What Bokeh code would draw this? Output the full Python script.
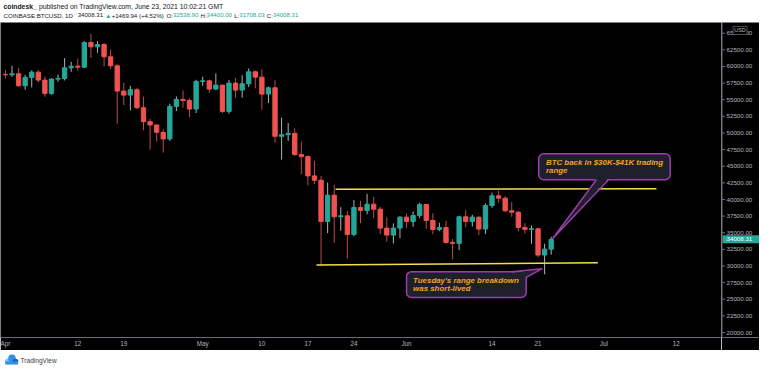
import pandas as pd
from bokeh.plotting import figure
from bokeh.layouts import column, row
from bokeh.models import Range1d, FixedTicker, Span
from bokeh.core.properties import value
from bokeh.embed import file_html
from bokeh.resources import INLINE

# ---------------- data ----------------
dates = pd.date_range("2021-04-01", "2021-06-23", freq="D")

opens = [58800, 58750, 58900, 57100, 58350, 59150, 57950, 55950, 58100, 58200,
         59800, 60050, 59900, 63600, 62950, 63300, 61450, 60100, 56300, 55700,
         56500, 53800, 51700, 51200, 50100, 49100, 54000, 55050, 54900, 53600,
         57750, 57850, 56600, 57200, 53250, 57500, 56450, 57400, 59200, 58400,
         55850, 56800, 49500, 49750, 49950, 46750, 46450, 43550, 42900, 36700,
         40650, 37400, 37550, 34750, 38800, 38350, 39300, 38550, 35700, 34650,
         35700, 37350, 36700, 37600, 39250, 36850, 35500, 35800, 33550, 33400,
         37400, 36700, 37350, 35550, 39100, 40550, 40200, 38300, 38100, 35800,
         35500, 35600, 31650, 32538.90]
highs = [59450, 60100, 59750, 58750, 59400, 59450, 58500, 58250, 58800, 61250,
         60700, 61200, 63800, 64900, 63800, 63550, 62550, 60400, 57550, 57100,
         56800, 55450, 52150, 51300, 50550, 54400, 55500, 56400, 55200, 58000,
         58450, 57950, 58950, 57250, 57950, 58300, 58700, 59700, 59400, 59600,
         57000, 57950, 52300, 51500, 50700, 48700, 46650, 45800, 43550, 42550,
         42200, 38850, 38300, 39900, 39800, 40850, 40400, 38900, 37300, 36400,
         37500, 37900, 38200, 39500, 39300, 37900, 36500, 36800, 34050, 37550,
         38400, 37700, 37450, 39400, 41050, 41300, 40500, 39600, 38200, 36450,
         36100, 35750, 33350, 34400.00]
lows = [58200, 58450, 56950, 56500, 56850, 57600, 55450, 55750, 57700, 57900,
        59200, 59400, 59800, 61300, 62050, 60000, 59600, 51400, 54200, 53400,
        53600, 50400, 47500, 48750, 47050, 48800, 53300, 53800, 52400, 53000,
        57100, 56000, 56450, 53000, 52900, 55300, 55300, 56900, 56700, 53500,
        54500, 48550, 46000, 48800, 46600, 43800, 42100, 42300, 30000, 34950,
        33500, 35300, 31100, 34500, 36450, 37800, 37200, 34800, 33650, 33400,
        34200, 35700, 35900, 37200, 35600, 34800, 35250, 33350, 31000, 32400,
        35800, 35950, 34650, 34800, 38750, 39500, 38100, 37400, 35200, 34850,
        33350, 31300, 28750, 31708.03]
closes = [58750, 58900, 57100, 58350, 59150, 57950, 55950, 58100, 58200, 59800,
          60050, 59900, 63600, 62950, 63300, 61450, 60100, 56300, 55700, 56500,
          53800, 51700, 51200, 50100, 49100, 54000, 55050, 54900, 53600, 57750,
          57850, 56600, 57200, 53250, 57500, 56450, 57400, 59200, 58400, 55850,
          56800, 49500, 49750, 49950, 46750, 46450, 43550, 42900, 36700, 40650,
          37400, 37550, 34750, 38800, 38350, 39300, 38550, 35700, 34650, 35700,
          37350, 36700, 37600, 39250, 36850, 35500, 35800, 33550, 33400, 37400,
          36700, 37350, 35550, 39100, 40550, 40200, 38300, 38100, 35800, 35500,
          35600, 31650, 32538.37, 34008.31]

x_tick_dates = ["2021-04-01", "2021-04-12", "2021-04-19", "2021-05-01", "2021-05-10",
                "2021-05-17", "2021-05-24", "2021-06-01", "2021-06-14", "2021-06-21",
                "2021-07-01", "2021-07-12", "2021-07-19"]
x_tick_labels = ["Apr", "12", "19", "May", "10", "17", "24", "Jun", "14", "21",
                 "Jul", "12", "19"]
price_ticks = list(range(20000, 65001, 2500))
price_labels = [f"{t:.2f}" for t in price_ticks]
last_price = 34008.31
currency = "USD"

range_top_dates = ["2021-05-21 04:48", "2021-07-09 00:00"]
range_top_prices = [41550, 41620]
range_bottom_dates = ["2021-05-18 07:12", "2021-06-30 02:24"]
range_bottom_prices = [30150, 30480]

note1_lines = ["BTC back in $30K-$41K trading", "range"]
note2_lines = ["Tuesday's range breakdown", "was short-lived"]

header_line1 = [("coindesk_", "bold", "dark"),
                (" published on TradingView.com, June 23, 2021 10:02:21 GMT", "normal", "dark")]
header_line2 = [("COINBASE:BTCUSD, 1D  ", "normal", "dark"), ("34008.31 ", "normal", "dark"),
                ("\u25b2", "normal", "teal"), (" +1469.94 (+4.52%) ", "normal", "dark"),
                ("O:", "normal", "dark"), ("32538.90", "normal", "teal"),
                (" H:", "normal", "dark"), ("34400.00", "normal", "teal"),
                (" L:", "normal", "dark"), ("31708.03", "normal", "teal"),
                (" C:", "normal", "dark"), ("34008.31", "normal", "teal")]

# ---------------- styles ----------------
UP, DOWN = "#26a69a", "#ef5350"
UP_WICK, DOWN_WICK = "#a9b5b8", "#bf4a49"
YELLOW = "#f0e04a"
BOX_FILL, BOX_LINE, NOTE_COLOR = "#1e212c", "#a03cb0", "#f7a01f"
AXIS_TXT, AXIS_LINE = "#b2b5be", "#6a6d78"
DARK = "#131722"
FONT = "Liberation Sans"
W = 759
FRAME_W = 721
AX_W = W - FRAME_W
MAIN_H = 328
XAX_H = 13

T0 = dates[0]


def day(d):
    return (pd.Timestamp(d) - T0) / pd.Timedelta(days=1)


idx = [day(d) for d in dates]
up = [c >= o for o, c in zip(opens, closes)]
colors = [UP if u else DOWN for u in up]
wick_colors = [UP_WICK if u else DOWN_WICK for u in up]
tops = [max(o, c) for o, c in zip(opens, closes)]
bottoms = [min(o, c) for o, c in zip(opens, closes)]

# ---------------- header ----------------
WID = {' ': 350, '.': 278, ',': 278, ':': 278, '+': 584, '(': 333, ')': 333, '%': 889,
       '-': 333, '_': 556, '\u25b2': 700,
       'A': 667, 'B': 667, 'C': 722, 'D': 722, 'E': 667, 'G': 778, 'H': 722, 'I': 278,
       'J': 500, 'L': 556, 'M': 833, 'N': 722, 'O': 778, 'S': 667, 'T': 611, 'U': 722,
       'V': 667, 'a': 556, 'b': 556, 'c': 500, 'd': 556, 'e': 556, 'g': 556, 'h': 556,
       'i': 222, 'k': 500, 'l': 222, 'm': 833, 'n': 556, 'o': 556, 'p': 556, 'r': 333,
       's': 500, 't': 278, 'u': 556, 'v': 500, 'w': 722, 'y': 500, 'f': 278}


def tw(s, size, bold=False):
    return sum(WID.get(ch, 556) for ch in s) / 1000.0 * size * (1.08 if bold else 1.0)


header = figure(width=W, height=22, x_range=Range1d(0, W), y_range=Range1d(22, 0),
                x_axis_location=None, y_axis_location=None, output_backend="svg",
                toolbar_location=None, min_border=0, background_fill_color="white",
                border_fill_color="white")
header.outline_line_color = None
header.grid.visible = False
cmap = {"dark": DARK, "teal": UP}
for line, yy, size in ((header_line1, 5.8, 6.8), (header_line2, 14.5, 6.1)):
    x = 3.0
    for seg, style, col in line:
        bold = style == "bold"
        lead = len(seg) - len(seg.lstrip(" "))
        header.text(x=[x + tw(seg[:lead], size)], y=[yy], text=[seg.strip()],
                    text_font=value(FONT), text_font_size=value(f"{size}px"),
                    text_font_style=value(style), text_color=cmap[col],
                    text_baseline="middle", text_align="left")
        x += tw(seg, size, bold)

# ---------------- main chart ----------------
yr = Range1d(19251, 66614)
p = figure(width=FRAME_W, height=MAIN_H, x_range=Range1d(-0.75, 108.9), y_range=yr,
           y_axis_location=None, output_backend="svg", toolbar_location=None,
           background_fill_color="#000000", border_fill_color="#000000",
           min_border_left=0, min_border_right=0, min_border_top=0, min_border_bottom=XAX_H)
p.outline_line_color = None
p.grid.visible = False

p.segment(x0=idx, y0=lows, x1=idx, y1=highs, line_color=wick_colors, line_width=1)
p.vbar(x=idx, width=0.66, top=tops, bottom=bottoms, fill_color=colors, line_color=colors,
       line_width=1)

p.line(x=[day(d) for d in range_top_dates], y=range_top_prices, line_color=YELLOW, line_width=1.6)
p.line(x=[day(d) for d in range_bottom_dates], y=range_bottom_prices, line_color=YELLOW,
       line_width=1.6)

# callout 1
b1 = dict(left=81.1, right=101.1, bottom=42983, top=46873)
p.quad(**b1, fill_color=BOX_FILL, line_color=BOX_LINE, line_width=1.5, border_radius=5)
tip1 = (83.2, 34100)
base1 = (89.9, 91.7)
p.patch(x=[base1[0], tip1[0], base1[1]], y=[b1["bottom"] + 250, tip1[1], b1["bottom"] + 250],
        fill_color=BOX_FILL, line_color=None)
p.line(x=[base1[0], tip1[0], base1[1]], y=[b1["bottom"], tip1[1], b1["bottom"]],
       line_color=BOX_LINE, line_width=1.5)
p.text(x=[82.2, 82.2], y=[45600, 44400], text=note1_lines, text_font=value(FONT),
       text_font_style=value("bold italic"), text_font_size=value("7.9px"),
       text_color=NOTE_COLOR, text_baseline="middle", text_align="left")

# callout 2
b2 = dict(left=61.0, right=79.2, bottom=25260, top=29150)
p.quad(**b2, fill_color=BOX_FILL, line_color=BOX_LINE, line_width=1.5, border_radius=5)
tip2 = (81.65, 29600)
p.patch(x=[77.0, tip2[0], 79.2 - 0.15], y=[b2["top"] - 250, tip2[1], 28300],
        fill_color=BOX_FILL, line_color=None)
p.line(x=[77.0, tip2[0], 79.2], y=[b2["top"], tip2[1], 28300], line_color=BOX_LINE,
       line_width=1.5)
p.text(x=[62.0, 62.0], y=[27850, 26560], text=note2_lines, text_font=value(FONT),
       text_font_style=value("bold italic"), text_font_size=value("7.9px"),
       text_color=NOTE_COLOR, text_baseline="middle", text_align="left")

# time axis
tick_idx = [int(round(day(d))) for d in x_tick_dates]
p.xaxis.ticker = FixedTicker(ticks=tick_idx)
p.xaxis.major_label_overrides = {i: lab for i, lab in zip(tick_idx, x_tick_labels)}
p.xaxis.major_tick_line_color = None
p.xaxis.minor_tick_line_color = None
p.xaxis.major_tick_out = 0
p.xaxis.major_tick_in = 0
p.xaxis.major_label_standoff = 2
p.xaxis.axis_line_color = AXIS_LINE
p.xaxis.major_label_text_font = FONT
p.xaxis.major_label_text_font_size = "6.3px"
p.xaxis.major_label_text_color = AXIS_TXT

# ---------------- price scale strip ----------------
s = figure(width=AX_W, height=MAIN_H, x_range=Range1d(0, AX_W), y_range=yr,
           y_axis_location=None, output_backend="svg", toolbar_location=None,
           background_fill_color="#000000", border_fill_color="#000000",
           min_border_left=0, min_border_right=0, min_border_top=0, min_border_bottom=XAX_H)
s.outline_line_color = None
s.grid.visible = False
s.xaxis.ticker = FixedTicker(ticks=[])
s.xaxis.major_tick_out = 0
s.xaxis.major_tick_in = 0
s.xaxis.minor_tick_line_color = None
s.xaxis.axis_line_color = AXIS_LINE
s.add_layout(Span(location=0.5, dimension="height", line_color=AXIS_LINE, line_width=1))
s.segment(x0=[0.5] * len(price_ticks), x1=[3.5] * len(price_ticks), y0=price_ticks,
          y1=price_ticks, line_color=AXIS_LINE, line_width=1)
s.text(x=[5.0] * len(price_ticks), y=price_ticks, text=price_labels, text_font=value(FONT),
       text_font_size=value("6.2px"), text_color=AXIS_TXT, text_baseline="middle",
       text_align="left")
# last price marker
s.rect(x=[AX_W / 2 + 0.5], y=[last_price], width=[AX_W - 1], height=[8], height_units="screen",
       fill_color=UP, line_color=None)
s.text(x=[5.0], y=[last_price], text=[f"{last_price:.2f}"], text_font=value(FONT),
       text_font_size=value("6.2px"), text_color="white", text_baseline="middle",
       text_align="left")
# currency badge
s.rect(x=[18.5], y=[65420], width=[14], height=[8], height_units="screen",
       fill_color="#000000", line_color="#5d606b", line_width=0.8)
s.text(x=[18.5], y=[65420], text=[currency], text_font=value(FONT),
       text_font_size=value("5.4px"), text_color=AXIS_TXT, text_baseline="middle",
       text_align="center")

# ---------------- footer ----------------
footer = figure(width=W, height=19, x_range=Range1d(0, W), y_range=Range1d(19, 0),
                x_axis_location=None, y_axis_location=None, output_backend="svg",
                toolbar_location=None, min_border=0, background_fill_color="white",
                border_fill_color="white")
footer.outline_line_color = None
footer.grid.visible = False
footer.circle(x=[7.5, 11.5, 15.0], y=[11.0, 7.8, 11.0], radius=[3.0, 3.8, 2.8],
              fill_color=["#7cc0f5", "#2e8fe8", "#1f5fb8"], line_color=None)
footer.quad(left=[4.8], right=[17.5], top=[11.0], bottom=[14.0], fill_color="#2e8fe8",
            line_color=None)
footer.text(x=[20.0], y=[9.8], text=["TradingView"], text_font=value(FONT),
            text_font_size=value("6.6px"), text_color="#3a3e4a", text_baseline="middle")

layout = column(header, row(p, s, spacing=0), footer, spacing=0)
open("out.html", "w").write(file_html(layout, INLINE))
